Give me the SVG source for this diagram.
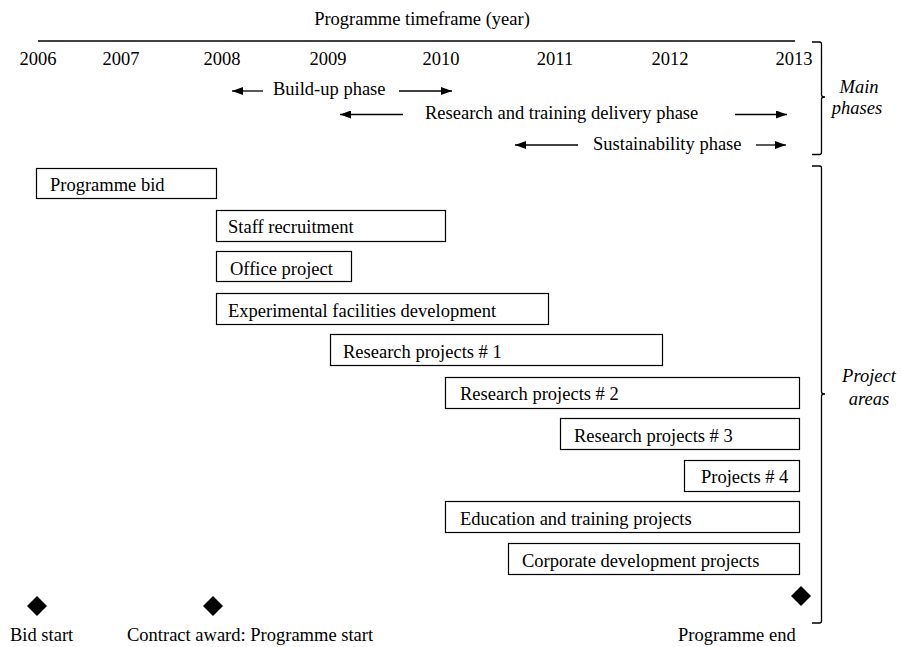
<svg xmlns="http://www.w3.org/2000/svg" width="901" height="647" viewBox="0 0 901 647">
<style>
text{font-family:"Liberation Serif","Times New Roman",serif;font-size:18.5px;fill:#000}
.it{font-style:italic}
.box{fill:#fff;stroke:#000;stroke-width:1.2}
.ln{stroke:#000;stroke-width:1.3;fill:none}
.br{stroke:#000;stroke-width:1.3;fill:none}
.dm{fill:#000}
</style>
<defs>
<marker id="ah" viewBox="0 0 11 8" refX="11" refY="4" markerWidth="11" markerHeight="8" markerUnits="userSpaceOnUse" orient="auto-start-reverse">
<path d="M0,0 L11,4 L0,8 z" fill="#000"/>
</marker>
</defs>
<rect width="901" height="647" fill="#fff"/>
<g id="timeline">
<text x="422" y="25" text-anchor="middle">Programme timeframe (year)</text>
<line class="ln" x1="38" y1="41" x2="795" y2="41"/>
<text x="38" y="65" text-anchor="middle">2006</text>
<text x="121" y="65" text-anchor="middle">2007</text>
<text x="222" y="65" text-anchor="middle">2008</text>
<text x="328" y="65" text-anchor="middle">2009</text>
<text x="441" y="65" text-anchor="middle">2010</text>
<text x="555" y="65" text-anchor="middle">2011</text>
<text x="670" y="65" text-anchor="middle">2012</text>
<text x="794" y="65" text-anchor="middle">2013</text>
</g>
<g id="connectors">
<line class="ln" x1="263" y1="91" x2="232" y2="91" marker-end="url(#ah)"/>
<line class="ln" x1="399" y1="91" x2="452" y2="91" marker-end="url(#ah)"/>
<line class="ln" x1="403" y1="114.5" x2="340" y2="114.5" marker-end="url(#ah)"/>
<line class="ln" x1="735" y1="114.5" x2="787" y2="114.5" marker-end="url(#ah)"/>
<line class="ln" x1="578" y1="145" x2="515" y2="145" marker-end="url(#ah)"/>
<line class="ln" x1="756" y1="145" x2="786" y2="145" marker-end="url(#ah)"/>
</g>
<g id="phases">
<text x="273" y="95">Build-up phase</text>
<text x="425" y="119">Research and training delivery phase</text>
<text x="593" y="150">Sustainability phase</text>
</g>
<g id="main-phases-bracket">
<path class="br" d="M812,42 L819.5,42 Q821.5,42 821.5,44 L821.5,95 Q821.5,97 825,97 Q821.5,97 821.5,99 L821.5,152 Q821.5,154.5 819.5,154.5 L812,154.5"/>
<text class="it" x="859" y="93" text-anchor="middle">Main</text>
<text class="it" x="857" y="114" text-anchor="middle">phases</text>
</g>
<g id="project-areas-bracket">
<path class="br" d="M812,166 L819.5,166 Q821.5,166 821.5,168 L821.5,392 Q821.5,394 825,394 Q821.5,394 821.5,396 L821.5,621 Q821.5,623 819.5,623 L812,623"/>
<text class="it" x="869" y="382" text-anchor="middle">Project</text>
<text class="it" x="869" y="405" text-anchor="middle">areas</text>
</g>
<g id="programme-bid"><rect class="box" x="36.5" y="168.5" width="180" height="30"/><text x="50" y="191">Programme bid</text></g>
<g id="staff-recruitment"><rect class="box" x="216.5" y="210.5" width="229" height="31"/><text x="228" y="233">Staff recruitment</text></g>
<g id="office-project"><rect class="box" x="216.5" y="251.5" width="135" height="30"/><text x="230" y="275">Office project</text></g>
<g id="experimental-facilities"><rect class="box" x="216.5" y="293.5" width="332" height="31"/><text x="228" y="317">Experimental facilities development</text></g>
<g id="research-1"><rect class="box" x="330.5" y="334.5" width="332" height="31"/><text x="343" y="358">Research projects # 1</text></g>
<g id="research-2"><rect class="box" x="445.5" y="377.5" width="354" height="31"/><text x="460" y="400">Research projects # 2</text></g>
<g id="research-3"><rect class="box" x="560.5" y="418.5" width="239" height="31"/><text x="574" y="442">Research projects # 3</text></g>
<g id="projects-4"><rect class="box" x="684.5" y="460.5" width="115" height="31"/><text x="701" y="483">Projects # 4</text></g>
<g id="education"><rect class="box" x="445.5" y="501.5" width="354" height="31"/><text x="460" y="525">Education and training projects</text></g>
<g id="corporate"><rect class="box" x="508.5" y="543.5" width="291" height="31"/><text x="522" y="567">Corporate development projects</text></g>
<g id="milestones">
<path class="dm" d="M37,596 L47,606 L37,616 L27,606 z"/>
<path class="dm" d="M213,596 L223,606 L213,616 L203,606 z"/>
<path class="dm" d="M801,586 L811,596 L801,606 L791,596 z"/>
<text x="10" y="641">Bid start</text>
<text x="127" y="641">Contract award: Programme start</text>
<text x="678" y="641">Programme end</text>
</g>
</svg>
